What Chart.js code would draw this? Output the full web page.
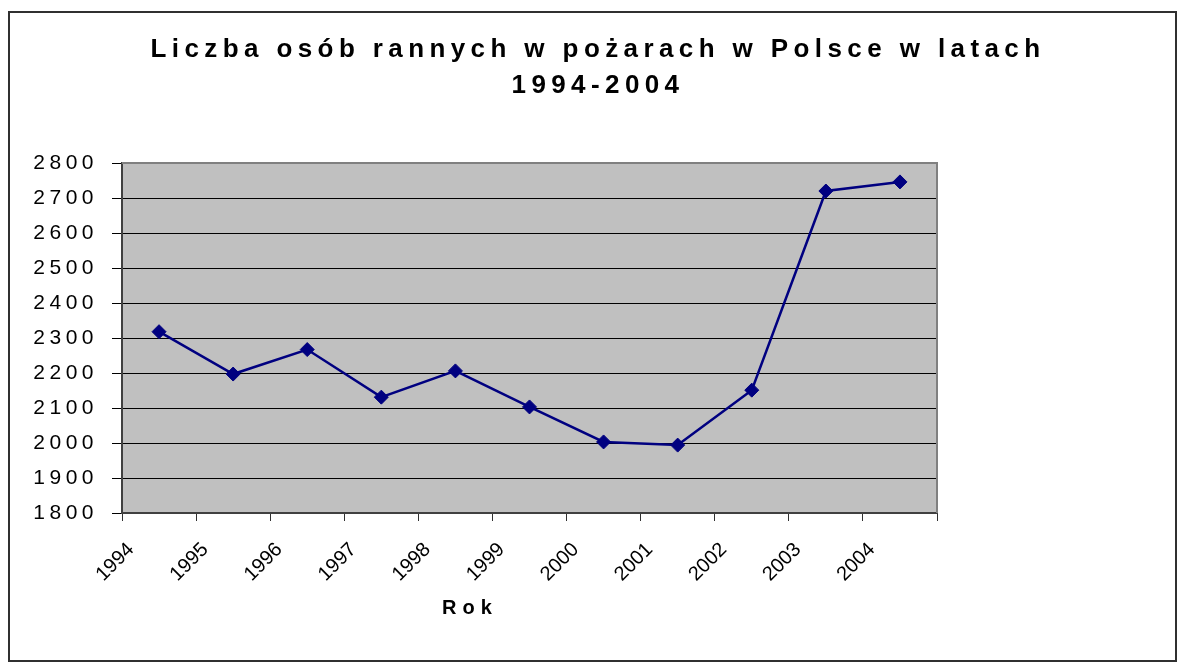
<!DOCTYPE html>
<html>
<head>
<meta charset="utf-8">
<script src="https://cdn.jsdelivr.net/npm/chart.js@4.4.1/dist/chart.umd.min.js"></script>
<style>
  html, body { margin: 0; padding: 0; background: #ffffff; }
  #wrap { width: 1187px; height: 672px; position: relative; }
  canvas { display: block; }
</style>
</head>
<body>
<div id="wrap"><canvas id="chart" width="1187" height="672"></canvas></div>
<script>
// ---- data ----
const years = ['1994', '1995', '1996', '1997', '1998', '1999', '2000', '2001', '2002', '2003', '2004'];
const injured = [2318, 2197, 2267, 2131, 2206, 2103, 2003, 1994, 2151, 2720, 2746];
const titleLines = ['Liczba osób rannych w pożarach w Polsce w latach', '1994-2004'];
const xAxisTitle = 'Rok';
const yMin = 1800;
const yMax = 2800;
const yStep = 100;

const FONT = '"Liberation Sans", Arial, sans-serif';

const decorPlugin = {
  id: 'decor',
  beforeDraw(chart) {
    const { ctx, chartArea: a } = chart;
    const ys = chart.scales.y;
    if (ys && !ys._spaced) {
      const orig = ys.drawLabels.bind(ys);
      ys.drawLabels = function (ca) {
        this.ctx.save();
        this.ctx.letterSpacing = '4.5px';
        orig(ca);
        this.ctx.restore();
      };
      ys._spaced = true;
    }
    ctx.save();
    ctx.strokeStyle = '#303030';
    ctx.lineWidth = 2;
    ctx.strokeRect(9, 12, 1167, 649);
    ctx.fillStyle = '#c0c0c0';
    ctx.fillRect(a.left, a.top, a.right - a.left, a.bottom - a.top);
    ctx.restore();
  },
  beforeDatasetsDraw(chart) {
    const { ctx, chartArea: a } = chart;
    ctx.save();
    ctx.strokeStyle = '#808080';
    ctx.lineWidth = 2;
    ctx.beginPath();
    ctx.moveTo(a.left, a.top);
    ctx.lineTo(a.right, a.top);
    ctx.lineTo(a.right, a.bottom);
    ctx.stroke();
    ctx.restore();
  },
  afterDraw(chart) {
    const { ctx } = chart;
    ctx.save();
    ctx.fillStyle = '#000';
    ctx.textAlign = 'center';
    ctx.textBaseline = 'middle';
    ctx.font = 'bold 26px ' + FONT;
    ctx.letterSpacing = '5.4px';
    ctx.fillText(titleLines[0], 598, 50);
    ctx.fillText(titleLines[1], 598, 86);
    ctx.font = 'bold 20px ' + FONT;
    ctx.letterSpacing = '6px';
    ctx.fillText(xAxisTitle, 470, 608);
    ctx.restore();
  }
};

new Chart(document.getElementById('chart'), {
  type: 'line',
  data: {
    labels: years,
    datasets: [{
      data: injured,
      borderColor: '#000080',
      backgroundColor: '#000080',
      borderWidth: 2.5,
      pointStyle: 'rectRot',
      pointRadius: 7,
      pointHoverRadius: 7,
      pointBackgroundColor: '#000080',
      pointBorderColor: '#000080',
      pointBorderWidth: 1,
      tension: 0,
      fill: false
    }]
  },
  options: {
    responsive: false,
    animation: false,
    events: [],
    layout: { padding: { left: 0, right: 250, top: 163, bottom: 0 } },
    plugins: {
      legend: { display: false },
      title: { display: false },
      tooltip: { enabled: false }
    },
    scales: {
      x: {
        type: 'category',
        offset: true,
        grid: {
          offset: true,
          drawOnChartArea: false,
          drawTicks: true,
          tickLength: 8,
          color: '#303030',
          lineWidth: 1
        },
        border: { display: true, color: '#404040', width: 2 },
        ticks: {
          autoSkip: false,
          minRotation: 45,
          maxRotation: 45,
          labelOffset: -28,
          padding: 17,
          color: '#000',
          font: { family: FONT, size: 20 }
        },
        afterFit(scale) { scale.height = 159; }
      },
      y: {
        min: yMin,
        max: yMax,
        grid: {
          color: '#000',
          lineWidth: 1,
          drawTicks: true,
          tickLength: 10
        },
        border: { display: true, color: '#404040', width: 2 },
        ticks: {
          stepSize: yStep,
          padding: 14,
          color: '#000',
          font: { family: FONT, size: 21 },
          callback: (v) => String(v)
        },
        afterFit(scale) { scale.width = 122; }
      }
    }
  },
  plugins: [decorPlugin]
});
</script>
</body>
</html>
